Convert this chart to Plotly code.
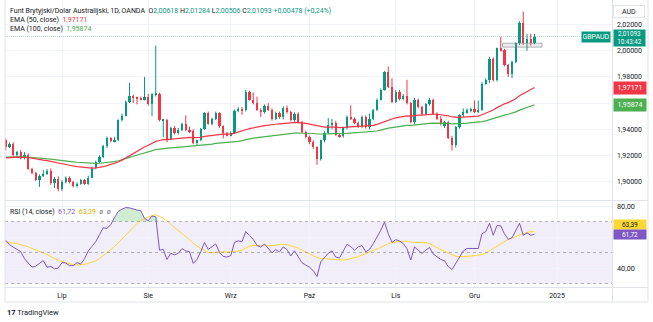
import numpy as np
import plotly.graph_objects as go

# ---------------- data ----------------
month_ticks = [15, 38, 60, 81, 104, 125, 147]
month_labels = ["Lip", "Sie", "Wrz", "Paź", "Lis", "Gru", "2025"]

opens = [1.9314,1.9263,1.9289,1.9200,1.9225,1.9180,1.9205,1.9097,1.9066,1.9015,
1.9045,1.9060,1.9084,1.8990,1.9020,1.8945,1.8995,1.9028,1.8995,1.8965,
1.8985,1.9010,1.8985,1.9030,1.9105,1.9150,1.9187,1.9270,1.9330,1.9310,
1.9320,1.9468,1.9505,1.9610,1.9652,1.9640,1.9635,1.9630,1.9645,1.9590,
1.9667,1.9673,1.9468,1.9473,1.9327,1.9412,1.9370,1.9395,1.9442,1.9396,
1.9386,1.9295,1.9315,1.9404,1.9524,1.9442,1.9480,1.9524,1.9422,1.9370,
1.9355,1.9370,1.9540,1.9557,1.9545,1.9685,1.9627,1.9601,1.9550,1.9530,
1.9575,1.9550,1.9478,1.9525,1.9490,1.9565,1.9532,1.9467,1.9520,1.9455,
1.9378,1.9340,1.9300,1.9263,1.9174,1.9314,1.9373,1.9430,1.9450,1.9358,
1.9345,1.9408,1.9495,1.9478,1.9450,1.9418,1.9495,1.9415,1.9478,1.9545,
1.9627,1.9703,1.9839,1.9724,1.9609,1.9686,1.9630,1.9655,1.9600,1.9455,
1.9627,1.9570,1.9519,1.9591,1.9621,1.9519,1.9481,1.9425,1.9455,1.9335,
1.9276,1.9417,1.9506,1.9530,1.9545,1.9555,1.9535,1.9550,1.9749,1.9775,
1.9941,1.9775,2.0018,2.0005,1.9890,1.9826,1.9916,2.0056,2.0215,2.0056,
2.0090,2.00618]

highs = [1.9330,1.9300,1.9300,1.9235,1.9240,1.9225,1.9215,1.9105,1.9075,1.9055,
1.9090,1.9095,1.9100,1.9035,1.9040,1.9010,1.9040,1.9040,1.9005,1.8995,
1.9020,1.9020,1.9045,1.9115,1.9160,1.9200,1.9280,1.9345,1.9340,1.9340,
1.9475,1.9520,1.9620,1.9755,1.9665,1.9650,1.9650,1.9800,1.9670,1.9675,
2.0040,1.9680,1.9480,1.9480,1.9420,1.9425,1.9410,1.9450,1.9506,1.9420,
1.9400,1.9320,1.9410,1.9530,1.9535,1.9490,1.9535,1.9530,1.9430,1.9380,
1.9385,1.9550,1.9570,1.9570,1.9700,1.9695,1.9680,1.9650,1.9560,1.9590,
1.9600,1.9560,1.9535,1.9535,1.9575,1.9580,1.9540,1.9530,1.9530,1.9465,
1.9390,1.9350,1.9315,1.9270,1.9320,1.9385,1.9485,1.9480,1.9465,1.9365,
1.9415,1.9505,1.9583,1.9490,1.9460,1.9505,1.9505,1.9520,1.9555,1.9635,
1.9710,1.9845,1.9880,1.9790,1.9700,1.9700,1.9670,1.9778,1.9610,1.9640,
1.9635,1.9580,1.9600,1.9640,1.9635,1.9530,1.9500,1.9465,1.9465,1.9350,
1.9425,1.9515,1.9560,1.9560,1.9565,1.9620,1.9620,1.9760,1.9790,1.9955,
1.9950,2.0025,2.0107,2.0015,1.9900,1.9925,2.0065,2.0225,2.0300,2.0130,
2.0130,2.01284]

lows = [1.9240,1.9255,1.9190,1.9190,1.9170,1.9170,1.9090,1.9055,1.9005,1.8960,
1.9035,1.9050,1.8975,1.8950,1.8925,1.8930,1.8985,1.8985,1.8955,1.8955,
1.8975,1.8975,1.8975,1.9025,1.9095,1.9140,1.9180,1.9255,1.9300,1.9300,
1.9310,1.9460,1.9500,1.9600,1.9600,1.9590,1.9620,1.9620,1.9580,1.9500,
1.9650,1.9460,1.9340,1.9300,1.9320,1.9360,1.9360,1.9385,1.9385,1.9370,
1.9285,1.9280,1.9310,1.9395,1.9435,1.9430,1.9470,1.9410,1.9330,1.9345,
1.9345,1.9365,1.9530,1.9510,1.9535,1.9620,1.9590,1.9540,1.9495,1.9520,
1.9540,1.9465,1.9470,1.9480,1.9475,1.9520,1.9460,1.9455,1.9445,1.9370,
1.9330,1.9285,1.9250,1.9128,1.9160,1.9300,1.9365,1.9400,1.9350,1.9335,
1.9335,1.9400,1.9470,1.9440,1.9410,1.9410,1.9405,1.9400,1.9470,1.9540,
1.9620,1.9695,1.9715,1.9600,1.9600,1.9620,1.9620,1.9590,1.9445,1.9440,
1.9560,1.9505,1.9510,1.9580,1.9510,1.9470,1.9430,1.9410,1.9325,1.9238,
1.9260,1.9405,1.9495,1.9520,1.9530,1.9525,1.9525,1.9540,1.9740,1.9755,
1.9765,1.9765,1.9995,1.9880,1.9800,1.9790,1.9905,2.0045,2.0045,2.0000,
2.0040,2.00506]

closes = [1.9263,1.9289,1.9200,1.9225,1.9180,1.9205,1.9097,1.9066,1.9015,1.9045,
1.9060,1.9084,1.8990,1.9020,1.8945,1.8995,1.9028,1.8995,1.8965,1.8985,
1.9010,1.8985,1.9030,1.9105,1.9150,1.9187,1.9270,1.9330,1.9310,1.9320,
1.9468,1.9505,1.9610,1.9652,1.9640,1.9635,1.9630,1.9645,1.9590,1.9667,
1.9673,1.9468,1.9473,1.9327,1.9412,1.9370,1.9395,1.9442,1.9396,1.9386,
1.9295,1.9315,1.9404,1.9524,1.9442,1.9480,1.9524,1.9422,1.9370,1.9355,
1.9370,1.9540,1.9557,1.9545,1.9685,1.9627,1.9601,1.9550,1.9530,1.9575,
1.9550,1.9478,1.9525,1.9490,1.9565,1.9532,1.9467,1.9520,1.9455,1.9378,
1.9340,1.9300,1.9263,1.9174,1.9314,1.9373,1.9430,1.9450,1.9358,1.9345,
1.9408,1.9495,1.9478,1.9450,1.9418,1.9495,1.9415,1.9478,1.9545,1.9627,
1.9703,1.9839,1.9724,1.9609,1.9686,1.9630,1.9655,1.9600,1.9455,1.9627,
1.9570,1.9519,1.9591,1.9621,1.9519,1.9481,1.9442,1.9455,1.9335,1.9276,
1.9417,1.9506,1.9530,1.9545,1.9555,1.9535,1.9550,1.9749,1.9775,1.9941,
1.9775,2.0018,2.0005,1.9890,1.9826,1.9916,2.0056,2.0215,2.0056,2.0090,
2.0062,2.01093]

rsi = [57.9,55.0,53.5,51.8,50.5,46.0,43.0,40.5,41.2,43.0,
44.8,40.5,41.0,39.5,40.0,43.5,43.2,41.5,41.5,43.5,
42.5,46.0,51.0,54.0,57.0,61.5,66.0,65.5,68.0,72.5,
76.5,78.0,79.0,78.8,78.0,77.4,77.0,72.0,70.5,73.5,
73.0,51.5,52.0,45.5,49.5,48.5,49.5,52.5,51.0,50.5,
43.0,45.5,50.5,56.5,52.0,53.5,55.5,50.0,47.5,47.0,
48.0,56.5,57.5,57.0,63.5,61.0,58.5,54.5,53.5,55.5,
52.5,49.8,51.9,50.4,53.6,51.9,47.7,51.1,47.2,43.4,
41.9,40.5,38.3,34.5,44.0,46.5,49.5,51.0,47.0,46.5,
50.5,55.3,53.8,51.5,53.6,54.5,50.4,52.0,55.7,60.0,
64.3,69.6,62.1,56.5,58.3,57.4,55.7,52.5,45.1,53.6,
51.5,49.4,51.5,53.2,49.0,47.5,45.5,44.7,40.9,39.0,
43.0,47.7,51.0,52.6,52.6,52.8,52.6,62.1,63.5,68.9,
61.1,67.4,67.2,62.0,58.5,59.5,64.3,68.9,61.1,62.6,
61.1,61.72]
# RSI values of the 13 sessions before the visible window (for the 14-bar MA)
rsi_history = [55, 57, 56, 58, 57, 55, 57, 56, 54, 56, 58, 55, 57]

ema50_seed = 1.9177
ema100_seed = 1.9185
ema50_last_text = "1,97171"
ema100_last_text = "1,95874"
rsi_last_text = "61,72"
rsima_last_text = "63,39"
last_price_text = "2,01093"
last_time_text = "10:43:42"

price_ticks = [1.90, 1.92, 1.94, 1.96, 1.98, 2.00, 2.02]
price_tick_text = ["1,90000", "1,92000", "1,94000", "", "1,98000", "2,00000", "2,02000"]
rsi_ticks = [40, 60, 80]
rsi_tick_text = ["40,00", "", "80,00"]

# grey marker box near the last sessions (x in bars, y in price)
box_x = [132.5, 143.0]
box_y = [2.0028, 2.0058]

# ---------------- derived ----------------
n = len(closes)
idx = list(range(n))

def ema(values, period, seed):
    a = 2.0 / (period + 1)
    out, prev = [], seed
    for v in values:
        prev = a * v + (1 - a) * prev
        out.append(prev)
    return out

ema50 = ema(closes, 50, ema50_seed)
ema100 = ema(closes, 100, ema100_seed)
full_rsi = rsi_history + rsi
rsi_ma = [float(np.mean(full_rsi[i:i + 14])) for i in range(n)]

UP, DOWN = "#089981", "#F23645"
W, H = 653, 322

def py(ypx):
    return 1 - ypx / H

x_left, x_right = 5 / W, 612 / W
bar_px = 3.75
x0_px = 5.75
xr = [(5 - x0_px) / bar_px, (612 - x0_px) / bar_px]

def p_at(ypx):
    return 2.0 - (ypx - 50.8) / 1307.5

main_top, main_bot = 0, 200
rsi_top, rsi_bot = 201, 287
def r_at(ypx):
    return 70 - (ypx - 221.5) / 1.55

fig = go.Figure()

# wicks
for is_up, col in ((True, UP), (False, DOWN)):
    xs, ys = [], []
    for i in idx:
        if (closes[i] >= opens[i]) == is_up:
            xs += [i, i, None]
            ys += [lows[i], highs[i], None]
    fig.add_trace(go.Scatter(x=xs, y=ys, mode="lines", line=dict(color=col, width=1),
                             xaxis="x", yaxis="y", hoverinfo="skip"))
# bodies
for is_up, col in ((True, UP), (False, DOWN)):
    bx, bb, bh = [], [], []
    for i in idx:
        if (closes[i] >= opens[i]) == is_up:
            lo, hi = min(opens[i], closes[i]), max(opens[i], closes[i])
            bx.append(i)
            bb.append(lo)
            bh.append(max(hi - lo, 0.0003))
    fig.add_trace(go.Bar(x=bx, y=bh, base=bb, width=0.66, marker=dict(color=col, line=dict(width=0)),
                         xaxis="x", yaxis="y", hoverinfo="skip"))

fig.add_trace(go.Scatter(x=idx, y=ema100, mode="lines", line=dict(color="#4CAF50", width=1.2),
                         xaxis="x", yaxis="y"))
fig.add_trace(go.Scatter(x=idx, y=ema50, mode="lines", line=dict(color="#F23645", width=1.2),
                         xaxis="x", yaxis="y"))

# RSI overbought fill
fig.add_trace(go.Scatter(x=idx, y=[70] * n, mode="lines", line=dict(width=0, color="rgba(0,0,0,0)"),
                         xaxis="x2", yaxis="y2", hoverinfo="skip"))
fig.add_trace(go.Scatter(x=idx, y=[max(v, 70) for v in rsi], mode="lines", line=dict(width=0, color="rgba(0,0,0,0)"),
                         fill="tonexty", fillcolor="rgba(76,175,80,0.25)", xaxis="x2", yaxis="y2", hoverinfo="skip"))
fig.add_trace(go.Scatter(x=idx, y=rsi_ma, mode="lines", line=dict(color="#FDD835", width=1),
                         xaxis="x2", yaxis="y2"))
fig.add_trace(go.Scatter(x=idx, y=rsi, mode="lines", line=dict(color="#7E57C2", width=1),
                         xaxis="x2", yaxis="y2"))

grid = "#f0f3fa"
border = "#e0e3eb"
fnt = "Roboto"

shapes = []
shapes.append(dict(type="rect", xref="paper", yref="y2", x0=x_left, x1=x_right, y0=30, y1=70,
                   fillcolor="rgba(126,87,194,0.1)", line=dict(width=0), layer="below"))
for lv in (70, 50, 30):
    shapes.append(dict(type="line", xref="paper", yref="y2", x0=x_left, x1=x_right, y0=lv, y1=lv,
                       line=dict(color="rgba(120,123,134,0.55)", width=1, dash="3px,3px")))
# last price dotted line
shapes.append(dict(type="line", xref="paper", yref="y", x0=x_left, x1=x_right, y0=closes[-1], y1=closes[-1],
                   line=dict(color="rgba(120,150,140,0.45)", width=1, dash="1px,1px")))
# grey marker box
shapes.append(dict(type="rect", xref="x", yref="y", x0=box_x[0], x1=box_x[1], y0=box_y[0], y1=box_y[1],
                   fillcolor="rgba(149,152,161,0.18)", line=dict(color="rgba(120,123,134,0.55)", width=1)))

def hline(ypx, x0=5, x1=648):
    shapes.append(dict(type="line", xref="paper", yref="paper", x0=x0 / W, x1=x1 / W, y0=py(ypx), y1=py(ypx),
                       line=dict(color=border, width=1)))
def vline(xpx, y0=0, y1=302):
    shapes.append(dict(type="line", xref="paper", yref="paper", x0=xpx / W, x1=xpx / W, y0=py(y0), y1=py(y1),
                       line=dict(color=border, width=1)))
hline(200.5)
hline(287.5)
hline(302)
vline(5)
vline(612.5)
vline(648)

ann = []
def legend_line(ypx, text, size=7):
    ann.append(dict(xref="paper", yref="paper", x=8 / W, y=py(ypx), xanchor="left", yanchor="middle",
                    text=text, showarrow=False, font=dict(family=fnt, size=size, color="#131722")))

g = lambda s: f"<span style='color:{UP}'>{s}</span>"
legend_line(10.5, "Funt Brytyjski/Dolar Australijski, 1D, OANDA  O" + g("2,00618") + " H" + g("2,01284")
            + " L" + g("2,00506") + " C" + g("2,01093") + " " + g("+0,00478 (+0,24%)"))
legend_line(20, "EMA (50, close)  <span style='color:#F23645'>" + ema50_last_text + "</span>")
legend_line(29.5, "EMA (100, close)  <span style='color:#4CAF50'>" + ema100_last_text + "</span>")
legend_line(212, "RSI (14, close)  <span style='color:#7E57C2'>" + rsi_last_text + "</span>  <span style='color:#E0B400'>"
            + rsima_last_text + "</span>  <span style='color:#787b86'>ø  ø</span>")

def axis_label(yref, yval, text, bg, fg="white", yshift=0, h=10, size=7):
    ann.append(dict(xref="paper", yref=yref, x=613 / W, y=yval, xanchor="left", yanchor="middle",
                    text=text, showarrow=False, bgcolor=bg, font=dict(family=fnt, size=size, color=fg),
                    width=30, height=h, borderpad=1, align="center", yshift=yshift))

axis_label("y", ema50[-1], ema50_last_text, "#F23645")
axis_label("y", ema100[-1], ema100_last_text, "#4CAF50")
ann.append(dict(xref="paper", yref="y", x=613 / W, y=closes[-1], xanchor="left", yanchor="top", yshift=7.5,
                text=last_price_text + "<br>" + last_time_text, showarrow=False, bgcolor=UP,
                font=dict(family=fnt, size=6.3, color="white"), width=30, height=15, borderpad=0.5, align="center"))
ann.append(dict(xref="paper", yref="y", x=611 / W, y=closes[-1], xanchor="right", yanchor="middle", yshift=0,
                text="GBPAUD", showarrow=False, bgcolor=UP,
                font=dict(family=fnt, size=7, color="white"), width=26, height=8, borderpad=1, align="center"))
ann.append(dict(xref="paper", yref="paper", x=613 / W, y=py(11.5), xanchor="left", yanchor="middle",
                text="AUD", showarrow=False, bgcolor="white", bordercolor=border, borderwidth=1,
                font=dict(family=fnt, size=7, color="#131722"), width=30, height=11, borderpad=0, align="center"))
axis_label("y2", rsi_ma[-1], rsima_last_text, "#FDD835", fg="#131722", yshift=7, h=7, size=6.5)
axis_label("y2", rsi[-1], rsi_last_text, "#7E57C2", h=7, size=6.5)

ann.append(dict(xref="paper", yref="paper", x=5 / W, y=py(312), xanchor="left", yanchor="middle",
                text="<b>17</b> TradingView", showarrow=False, font=dict(family=fnt, size=7.5, color="#131722")))

fig.update_layout(
    width=W, height=H, margin=dict(l=0, r=0, t=0, b=0),
    paper_bgcolor="white", plot_bgcolor="white", showlegend=False,
    barmode="overlay", bargap=0, separators=",.",
    font=dict(family=fnt, size=7, color="#131722"),
    shapes=shapes, annotations=ann,
    xaxis=dict(domain=[x_left, x_right], range=xr, anchor="y", tickvals=month_ticks, showticklabels=False,
               showgrid=True, gridcolor=grid, zeroline=False, showline=False, ticks=""),
    xaxis2=dict(domain=[x_left, x_right], range=xr, anchor="y2", tickvals=month_ticks, ticktext=month_labels,
                showgrid=True, gridcolor=grid, zeroline=False, showline=False, ticks="",
                tickfont=dict(family=fnt, size=7, color="#131722"), ticklabelstandoff=3),
    yaxis=dict(domain=[py(main_bot), py(main_top)], range=[p_at(main_bot), p_at(main_top)], side="right",
               anchor="x", tickvals=price_ticks, ticktext=price_tick_text, showgrid=True, gridcolor=grid,
               zeroline=False, ticks="", tickfont=dict(family=fnt, size=7, color="#131722"),
               ticklabelstandoff=4),
    yaxis2=dict(domain=[py(rsi_bot), py(rsi_top)], range=[r_at(rsi_bot), r_at(rsi_top)], side="right",
                anchor="x2", tickvals=rsi_ticks, ticktext=rsi_tick_text, showgrid=True, gridcolor=grid,
                zeroline=False, ticks="", tickfont=dict(family=fnt, size=7.3, color="#131722"),
                ticklabelstandoff=4),
)

fig.write_html("out.html")
